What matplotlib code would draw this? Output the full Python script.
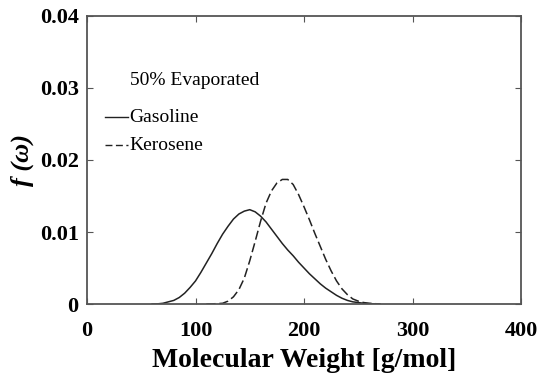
import numpy as np
import matplotlib
matplotlib.use("Agg")
import matplotlib.pyplot as plt

# -----------------------------
# Data (molecular weight in g/mol, f(omega))
# -----------------------------
gas_mw = [60, 65, 70, 75, 80, 85, 90, 95, 100, 105, 110, 115, 120, 125, 130, 135,
          140, 145, 150, 155, 160, 165, 170, 175, 180, 185, 190, 195, 200, 205,
          210, 215, 220, 225, 230, 235, 240, 245, 250, 255, 260, 270]
gas_f = [0.0, 0.00002, 0.0001, 0.0003, 0.0005, 0.0009, 0.0015, 0.0023, 0.0032,
         0.0044, 0.0057, 0.0070, 0.0084, 0.0097, 0.0108, 0.0118, 0.0125, 0.0129,
         0.0131, 0.0128, 0.0122, 0.0114, 0.0104, 0.0094, 0.0084, 0.0075, 0.0067,
         0.0058, 0.0050, 0.0042, 0.0035, 0.0028, 0.0022, 0.0017, 0.0012, 0.0008,
         0.0005, 0.0003, 0.0002, 0.0001, 0.00005, 0.0]

ker_mw = [110, 115, 120, 125, 130, 135, 140, 145, 150, 155, 160, 165, 170, 175,
          180, 185, 190, 195, 200, 205, 210, 215, 220, 225, 230, 235, 240, 245,
          250, 255, 260, 270]
ker_f = [0.0, 0.00002, 0.00005, 0.0001, 0.0004, 0.0010, 0.0020, 0.0036, 0.0060,
         0.0087, 0.0115, 0.0140, 0.0157, 0.0168, 0.0173, 0.0173, 0.0166, 0.0152,
         0.0135, 0.0117, 0.0098, 0.0080, 0.0062, 0.0046, 0.0032, 0.0021, 0.0013,
         0.0007, 0.0004, 0.0002, 0.0001, 0.0]

x_ticks = [0, 100, 200, 300, 400]
y_ticks = [0, 0.01, 0.02, 0.03, 0.04]
y_tick_labels = ["0", "0.01", "0.02", "0.03", "0.04"]

serif = "Liberation Serif"
ink = "#222222"

fig = plt.figure(figsize=(5.43, 3.80), dpi=100)
ax = fig.add_axes([87 / 543, 76 / 380, 434 / 543, 288 / 380])

ax.plot(gas_mw, gas_f, color=ink, lw=1.1, ls="-")
ax.plot(ker_mw, ker_f, color=ink, lw=1.1, ls=(0, (6, 2.5)))

ax.set_xlim(0, 400)
ax.set_ylim(0, 0.04)
ax.set_xticks(x_ticks)
ax.set_yticks(y_ticks)
ax.set_yticklabels(y_tick_labels)
ax.tick_params(direction="in", length=4, width=0.8, top=True, right=True,
               colors="#555555", labelcolor="black")
ax.tick_params(axis="x", pad=12)
ax.tick_params(axis="y", pad=6)
for lab in ax.get_xticklabels() + ax.get_yticklabels():
    lab.set_fontfamily(serif)
    lab.set_fontweight("bold")
    lab.set_fontsize(16)
for sp in ax.spines.values():
    sp.set_color("#555555")
    sp.set_linewidth(1.3)

ax.set_xlabel("Molecular Weight [g/mol]", family=serif, fontweight="bold",
              fontsize=20, labelpad=5)
ax.set_ylabel("f (ω)", family=serif, fontweight="bold", fontstyle="italic",
              fontsize=19, labelpad=4)

# legend drawn by hand, like the original figure
ax.text(0.099, 0.776, "50% Evaporated", transform=ax.transAxes,
        family=serif, fontsize=14, va="center")
ax.plot([0.041, 0.094], [0.649, 0.649], transform=ax.transAxes,
        color=ink, lw=1.0)
ax.text(0.097, 0.649, "Gasoline", transform=ax.transAxes,
        family=serif, fontsize=14, va="center")
ax.plot([0.041, 0.094], [0.552, 0.552], transform=ax.transAxes,
        color=ink, lw=1.0, ls=(0, (5, 2.5)))
ax.text(0.097, 0.552, "Kerosene", transform=ax.transAxes,
        family=serif, fontsize=14, va="center")

fig.savefig("out.png", dpi=100)
